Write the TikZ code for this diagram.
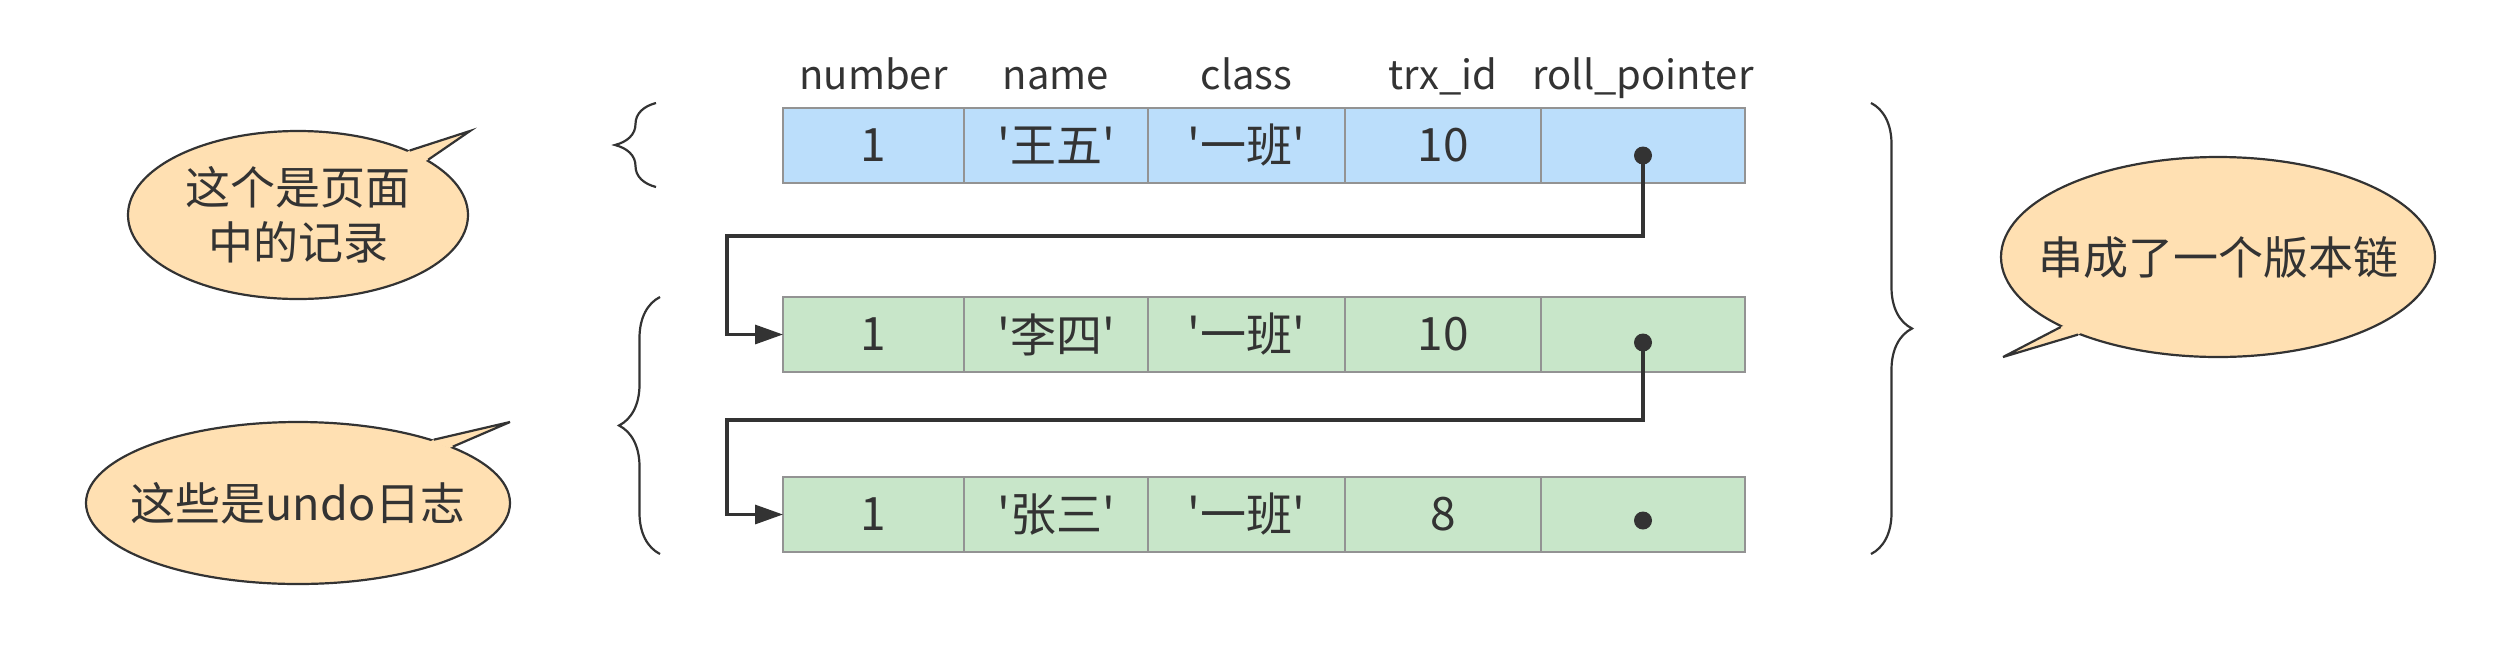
\documentclass[tikz,border=0pt]{standalone}
\usepackage{fontspec}
\setmainfont{Noto Sans CJK SC}[Ligatures=TeXOff]
\usepackage{xcolor}
\usetikzlibrary{positioning, arrows.meta, shapes.geometric, decorations.pathreplacing, calc}

\definecolor{topblue}{HTML}{BBDEFB}
\definecolor{undogreen}{HTML}{C8E6C9}
\definecolor{peach}{HTML}{FFE0B2}
\definecolor{ink}{HTML}{333333}
\definecolor{edge}{HTML}{939393}

\begin{document}
\begin{tikzpicture}[x=0.5pt, y=-0.5pt, % one unit is one pixel, y runs down
  >={Triangle[length=14pt, width=9.5pt]}, % filled arrow heads
  cell/.style={draw=edge, line width=1pt, minimum height=37.5pt, inner sep=0pt, outer sep=0pt,
    text=ink, font=\fontsize{23pt}{27pt}\selectfont}, % one field of a record
  numcol/.style={minimum width=90.5pt},
  namecol/.style={minimum width=92pt},
  classcol/.style={minimum width=98.5pt},
  trxcol/.style={minimum width=98pt},
  rollcol/.style={minimum width=102pt},
  head/.style={text=ink, inner sep=0pt, font=\fontsize{20pt}{24pt}\selectfont}, % column names
  dot/.style={circle, fill=ink, inner sep=0pt, minimum size=9pt},
  link/.style={->, draw=ink, line width=1.6pt},
  curly/.style={draw=ink, line width=1.1pt, decorate, decoration={brace, amplitude=20.5pt}},
  talk/.style={ellipse, draw=ink, fill=peach, line width=1.1pt, inner xsep=-30pt, inner ysep=-10pt,
    text=ink, align=center, font=\fontsize{22.5pt}{27.5pt}\selectfont}, % speech bubble
]
    \useasboundingbox (0,0) rectangle (2515,649);

    % record in the page
    \node[cell, numcol, fill=topblue] (a1) at (873.5,145.5) {1};
    \node[cell, namecol, fill=topblue, right=0pt of a1] (a2) {'王五'};
    \node[cell, classcol, fill=topblue, right=0pt of a2] (a3) {'一班'};
    \node[cell, trxcol, fill=topblue, right=0pt of a3] (a4) {10};
    \node[cell, rollcol, fill=topblue, right=0pt of a4] (a5) {};

    % undo log records
    \node[cell, numcol, fill=undogreen, below=57pt of a1] (b1) {1};
    \node[cell, namecol, fill=undogreen, right=0pt of b1] (b2) {'李四'};
    \node[cell, classcol, fill=undogreen, right=0pt of b2] (b3) {'一班'};
    \node[cell, trxcol, fill=undogreen, right=0pt of b3] (b4) {10};
    \node[cell, rollcol, fill=undogreen, right=0pt of b4] (b5) {};

    \node[cell, numcol, fill=undogreen, below=52.5pt of b1] (c1) {1};
    \node[cell, namecol, fill=undogreen, right=0pt of c1] (c2) {'张三'};
    \node[cell, classcol, fill=undogreen, right=0pt of c2] (c3) {'一班'};
    \node[cell, trxcol, fill=undogreen, right=0pt of c3] (c4) {8};
    \node[cell, rollcol, fill=undogreen, right=0pt of c4] (c5) {};

    % column names
    \node[head, above=9.5pt of a1, anchor=base] (h1) {number};
    \node[head, above=9.5pt of a2, anchor=base] (h2) {name};
    \node[head, above=9.5pt of a3, anchor=base] (h3) {class};
    \node[head, above=9.5pt of a4, anchor=base] (h4) {trx\_id};
    \node[head, above=9.5pt of a5, anchor=base] (h5) {roll\_pointer};

    % roll pointers
    \node[dot] (p1) at ([yshift=-5pt]a5.center) {};
    \node[dot] (p2) at ([yshift=-4pt]b5.center) {};
    \node[dot] (p3) at ([yshift=-3pt]c5.center) {};
    \coordinate (k1) at (727,236);
    \coordinate (k2) at (727,420);
    \draw[link] (p1.center) |- (k1) |- (b1.west);
    \draw[link] (p2.center) |- (k2) |- (c1.west);

    % braces
    \draw[curly] (656,187) -- (656,103);
    \draw[curly] (660,554) -- (660,297);
    \draw[curly] (1871,103) -- (1871,554);

    % speech bubbles
    \node[talk, minimum width=170pt, minimum height=84pt] (t1) at (298,215) {这个是页面\\中的记录};
    \coordinate (t1tip) at (470,131);
    \fill[peach] (t1tip) -- (t1.30) -- ($(t1.30)!2pt!(t1.center)$) -- ($(t1.23)!2pt!(t1.center)$) -- (t1.23) -- cycle;
    \draw[ink, line width=1.1pt] (t1.30) -- (t1tip) -- (t1.23);

    \node[talk, minimum width=212pt, minimum height=81pt] (t2) at (298,503) {这些是undo日志};
    \coordinate (t2tip) at (510,422);
    \fill[peach] (t2tip) -- (t2.25) -- ($(t2.25)!2pt!(t2.center)$) -- ($(t2.20)!2pt!(t2.center)$) -- (t2.20) -- cycle;
    \draw[ink, line width=1.1pt] (t2.25) -- (t2tip) -- (t2.20);

    \node[talk, minimum width=217pt, minimum height=100pt] (t3) at (2218,257) {串成了一个版本链};
    \coordinate (t3tip) at (2003,357);
    \fill[peach] (t3tip) -- (t3.204) -- ($(t3.204)!2pt!(t3.center)$) -- ($(t3.209)!2pt!(t3.center)$) -- (t3.209) -- cycle;
    \draw[ink, line width=1.1pt] (t3.204) -- (t3tip) -- (t3.209);
\end{tikzpicture}
\end{document}
